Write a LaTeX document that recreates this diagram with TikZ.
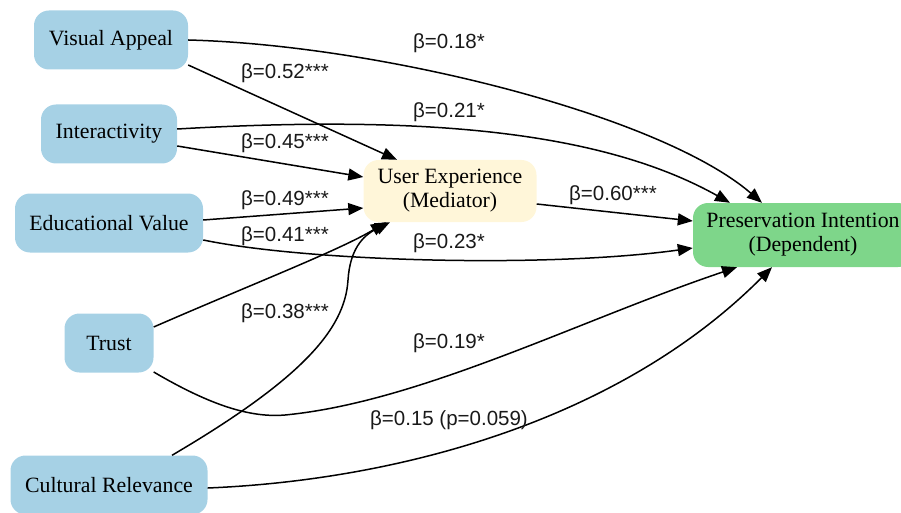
\documentclass[tikz,border=0pt]{standalone}
\usepackage{fontspec}
\setmainfont{Liberation Serif}
\newfontfamily\lblfont{Liberation Sans}
\usetikzlibrary{arrows.meta}
\definecolor{nodeblue}{HTML}{A6D1E5}
\definecolor{nodeyellow}{HTML}{FFF6D9}
\definecolor{nodegreen}{HTML}{7ED68A}
\begin{document}
\begin{tikzpicture}[x=1pt,y=-1pt,
  box/.style={rounded corners=15pt, inner sep=0pt, align=center,
    font=\fontsize{21.8}{24}\selectfont, text=black},
  ind/.style={box, fill=nodeblue, minimum height=59pt},
  conn/.style={line width=1.5pt, -{Triangle[length=15pt,width=12pt]}},
  lbl/.style={font=\lblfont\fontsize{20.5}{22}\selectfont, text=black!90, inner sep=0pt}]
\useasboundingbox (0,0) rectangle (901,513);
% nodes
\node[ind, minimum width=154pt] (va) at (111,40) {Visual Appeal};
\node[ind, minimum width=136pt] (ia) at (109,134) {Interactivity};
\node[ind, minimum width=188pt] (ev) at (109,223) {Educational Value};
\node[ind, minimum width=89pt]  (tr) at (109,343) {Trust};
\node[ind, minimum width=197pt] (cr) at (109,485) {Cultural Relevance};
\node[box, fill=nodeyellow, minimum width=173pt, minimum height=62pt] (ux) at (450,191)
  {User Experience\\(Mediator)};
\node[box, fill=nodegreen, minimum width=220pt, minimum height=64pt] (pi) at (803,235)
  {Preservation Intention\\(Dependent)};
% connectors
\draw[conn] (va.east) .. controls (380,45) and (660,115) .. ([xshift=-41pt]pi.north);
\draw[conn] ([yshift=-25pt]va.east) -- ([xshift=-53pt]ux.north);
\draw[conn] ([yshift=5pt]ia.east) .. controls (420,115) and (600,130) .. ([xshift=-73pt]pi.north);
\draw[conn] ([yshift=-12pt]ia.east) -- ([yshift=14pt]ux.west);
\draw[conn] ([yshift=3pt]ev.east) -- ([yshift=-17pt]ux.west);
\draw[conn] ([yshift=-17pt]ev.east) .. controls (310,262) and (550,268) .. ([yshift=-13pt]pi.west);
\draw[conn] ([yshift=16pt]tr.east) .. controls (250,285) and (340,250) .. ([xshift=-64pt]ux.south);
\draw[conn] ([yshift=-29pt]tr.east) .. controls (210,405) and (250,418) .. (285,415)
  .. controls (420,402) and (580,320) .. ([xshift=-66pt]pi.south);
\draw[conn] ([xshift=63pt]cr.north) .. controls (300,380) and (345,330) .. (348,280)
  .. controls (350,250) and (362,236) .. ([xshift=-60pt]ux.south);
\draw[conn] ([yshift=-3pt]cr.east) .. controls (400,480) and (620,420) .. ([xshift=-31pt]pi.south);
\draw[conn] ([yshift=-13pt]ux.east) -- ([yshift=14pt]pi.west);
% labels
\node[lbl] (l1) at (449,43) {β=0.18*};
\node[lbl] (l2) at (285,73) {β=0.52***};
\node[lbl] (l3) at (449,112) {β=0.21*};
\node[lbl] (l4) at (285,143) {β=0.45***};
\node[lbl] (l5) at (285,200) {β=0.49***};
\node[lbl] (l6) at (285,236) {β=0.41***};
\node[lbl] (l7) at (613,195) {β=0.60***};
\node[lbl] (l8) at (449,243) {β=0.23*};
\node[lbl] (l9) at (285,313) {β=0.38***};
\node[lbl] (l10) at (449,343) {β=0.19*};
\node[lbl] (l11) at (449,420) {β=0.15 (p=0.059)};
\end{tikzpicture}
\end{document}
